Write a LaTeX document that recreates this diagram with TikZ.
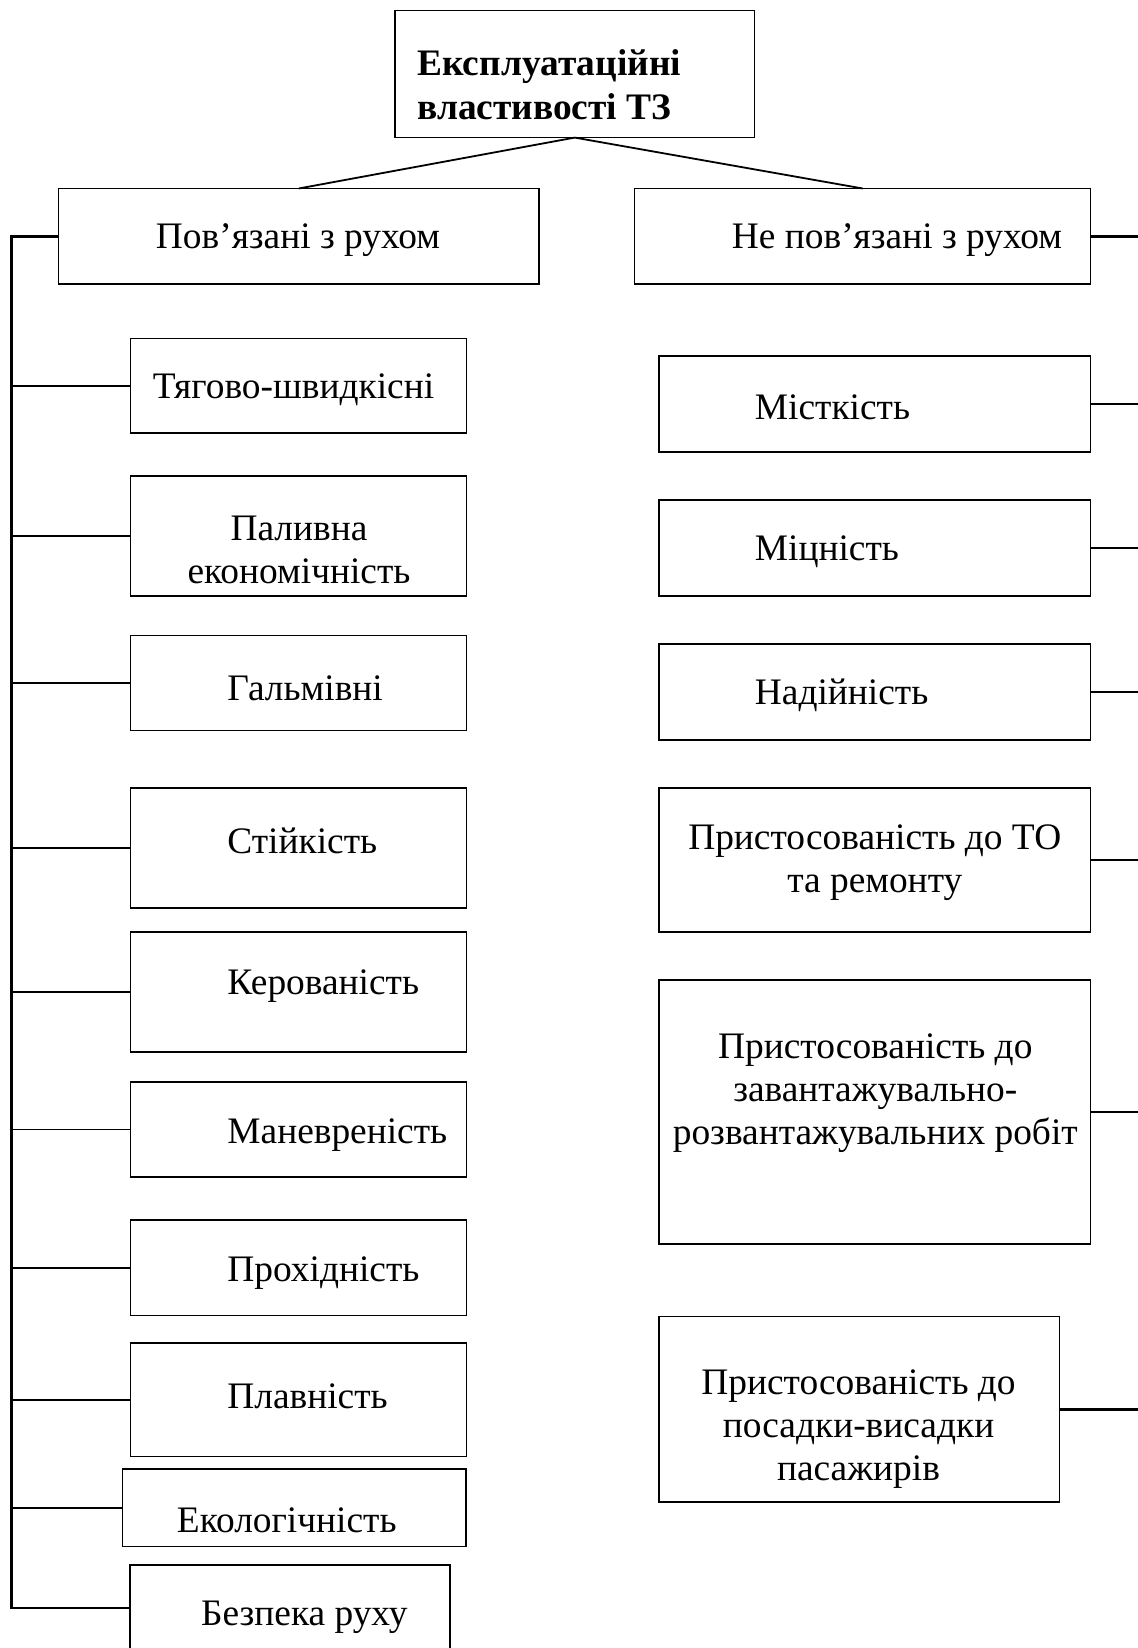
\documentclass[tikz,border=0pt]{standalone}
\usepackage{fontspec}
\setmainfont{Liberation Serif}
\usetikzlibrary{fit}
\begin{document}
\begin{tikzpicture}[x=0.5pt,y=-0.5pt,
  box/.style={draw, line width=0.75pt, inner sep=0pt, outer sep=0pt},
  lbl/.style={inner sep=0pt, yshift=-1.5pt, font=\fontsize{18.7}{21.5}\selectfont, align=center},
  link/.style={line width=0.9pt},
  trunk/.style={line width=1.4pt}]
\useasboundingbox (0,0) rectangle (1138,1648);
\clip (0,0) rectangle (1138,1648);

% root and the two groups
\node[box, fit={(395,10.5) (754.5,137.6)}] (root) {};
\node[box, fit={(58.5,188.5) (539,284)}] (hL) {};
\node[box, fit={(634.7,188.5) (1090.7,284)}] (hR) {};

% properties related to motion
\node[box, fit={(130.3,338.4) (466.6,433)}] (b1) {};
\node[box, fit={(130.3,476) (466.6,595.8)}] (b2) {};
\node[box, fit={(130.3,635.7) (466.6,730.3)}] (b3) {};
\node[box, fit={(130.3,788) (466.6,908)}] (b4) {};
\node[box, fit={(130.3,932) (466.6,1052)}] (b5) {};
\node[box, fit={(130.3,1082) (466.6,1177)}] (b6) {};
\node[box, fit={(130.3,1220) (466.6,1315.6)}] (b7) {};
\node[box, fit={(130.3,1343) (466.6,1456.5)}] (b8) {};
\node[box, fit={(122.7,1469) (466,1546.7)}] (b9) {};
\node[box, fit={(130,1565) (450,1651)}] (b10) {};

% properties not related to motion
\node[box, fit={(659,356) (1090.7,452)}] (r1) {};
\node[box, fit={(659,500) (1090.7,596)}] (r2) {};
\node[box, fit={(659,644) (1090.7,740)}] (r3) {};
\node[box, fit={(659,788) (1090.7,932)}] (r4) {};
\node[box, fit={(659,980) (1090.7,1244)}] (r5) {};
\node[box, fit={(659,1316.7) (1059.3,1502)}] (r6) {};

% texts
\node[lbl, anchor=west, align=left, font=\fontsize{18.7}{22}\selectfont\bfseries] (troot) at (417,82)
  {Експлуатаційні\\властивості ТЗ};
\node[lbl] (thL) at (298,237.5) {Пов’язані з рухом};
\node[lbl] (thR) at (897,237.5) {Не пов’язані з рухом};

\node[lbl, anchor=west] (t1) at (152.4,386.7) {Тягово-швидкісні};
\node[lbl] (t2) at (299,547) {Паливна\\економічність};
\node[lbl, anchor=west] (t3) at (227,685) {Гальмівні};
\node[lbl, anchor=west] (t4) at (227,837.5) {Стійкість};
\node[lbl, anchor=west] (t5) at (227,983.5) {Керованість};
\node[lbl, anchor=west] (t6) at (227,1131.7) {Маневреність};
\node[lbl, anchor=west] (t7) at (227,1270) {Прохідність};
\node[lbl, anchor=west] (t8) at (227,1393) {Плавність};
\node[lbl, anchor=west] (t9) at (176.5,1517) {Екологічність};
\node[lbl, anchor=west] (t10) at (200.7,1614) {Безпека руху};

\node[lbl, anchor=west] (s1) at (754.5,404.6) {Місткість};
\node[lbl, anchor=west] (s2) at (754.5,548.5) {Міцність};
\node[lbl, anchor=west] (s3) at (754.5,692.5) {Надійність};
\node[lbl] (s4) at (874.8,859.6) {Пристосованість до ТО\\та ремонту};
\node[lbl] (s5) at (875.3,1089.7) {Пристосованість до\\завантажувально-\\розвантажувальних робіт};
\node[lbl] (s6) at (858.5,1425.7) {Пристосованість до\\посадки-висадки\\пасажирів};

% connectors from the root
\draw[link] (root.south) -- (hL.north);
\draw[link] (root.south) -- (hR.north);

% left bus
\coordinate (lbus) at (11.6,0);
\draw[trunk] (hL.west) -- (hL.west -| lbus) -- (b10.west -| lbus) -- (b10.west);
\foreach \b in {b1,b2,b3,b4,b5,b6,b7,b8,b9}
  \draw[link] (\b.west -| lbus) -- (\b.west);

% right bus
\coordinate (rbus) at (1142,0);
\draw[trunk] (hR.east) -- (hR.east -| rbus) -- (r6.east -| rbus) -- (r6.east);
\foreach \r in {r1,r2,r3,r4,r5}
  \draw[link] (\r.east) -- (\r.east -| rbus);
\end{tikzpicture}
\end{document}
